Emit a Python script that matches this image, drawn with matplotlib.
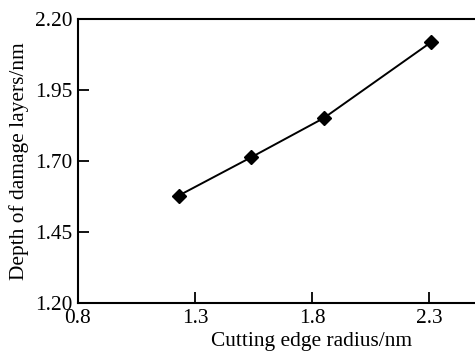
import matplotlib.pyplot as plt
import matplotlib as mpl

mpl.rc('font', family='Liberation Serif', size=15.4)

# data
radius = [1.23, 1.54, 1.85, 2.31]
depth = [1.578, 1.713, 1.851, 2.119]
xticks = [0.8, 1.3, 1.8, 2.3]
yticks = [1.20, 1.45, 1.70, 1.95, 2.20]

fig = plt.figure(figsize=(4.75, 3.55), dpi=100)
# axes runs past the right edge like the original
ax = fig.add_axes([78/475, 1 - 303/355, 468/475, 284/355])

ax.plot(radius, depth, color='black', lw=1.4, marker='D', markersize=7)

ax.set_xlim(0.8, 2.8)
ax.set_ylim(1.2, 2.2)
ax.set_xticks(xticks)
ax.set_xticklabels(['%.1f' % v for v in xticks])
ax.set_yticks(yticks)
ax.set_yticklabels(['%.2f' % v for v in yticks])
ax.tick_params(direction='in', length=8, width=1.3)
ax.tick_params(axis='x', pad=4)
ax.tick_params(axis='y', pad=4)
for s in ax.spines.values():
    s.set_linewidth(1.5)

ax.set_xlabel('Cutting edge radius/nm', labelpad=3)
ax.set_ylabel('Depth of damage layers/nm', labelpad=4)

plt.savefig('out.png', dpi=100)
